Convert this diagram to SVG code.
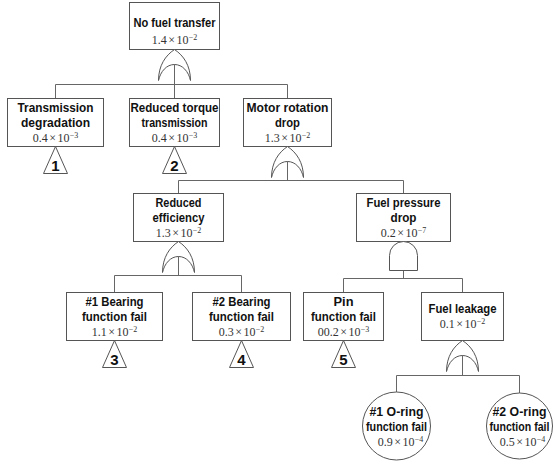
<svg xmlns="http://www.w3.org/2000/svg" xmlns:xlink="http://www.w3.org/1999/xlink" width="555" height="469" viewBox="0 0 555 469">
  <style>
    .box { fill: #fff; stroke: #555; stroke-width: 1; }
    .gate { fill: #fff; stroke: #555; stroke-width: 1; }
    .tri { fill: #fff; stroke: #555; stroke-width: 1; }
    .wire { fill: none; stroke: #666; stroke-width: 1; }
    .t { font-family: "Liberation Sans", Arial, sans-serif; font-weight: bold; font-size: 13px; text-anchor: middle; fill: #111; }
    .n { font-family: "Liberation Sans", Arial, sans-serif; font-weight: bold; font-size: 15px; text-anchor: middle; fill: #111; }
    .v { font-family: "Liberation Serif", "Times New Roman", serif; font-size: 12px; text-anchor: middle; fill: #333; word-spacing: -1.5px; }
    .sup { font-size: 8px; }
  </style>
  <defs>
    <!-- OR gate, tip at origin -->
    <path id="orGate" class="gate" d="M0,0 C9,6 16,16 16,31 C14,22 8,15 0,15 C-8,15 -14,22 -16,31 C-16,16 -9,6 0,0 Z"/>
    <!-- AND gate, top of dome at origin -->
    <path id="andGate" class="gate" d="M-14,29 V14 A14,14 0 0 1 14,14 V29 Z"/>
    <!-- transfer triangle, apex at origin -->
    <path id="transfer" class="tri" d="M0,0 L12,27 L-12,27 Z"/>
  </defs>

  <g id="connectors" class="wire">
    <path d="M174.5,64 V98.5"/>
    <path d="M55.5,84.5 H287.5"/>
    <path d="M55.5,84.5 V98.5 M287.5,84.5 V98.5"/>
    <path d="M287.5,161 V180.5"/>
    <path d="M178.5,180.5 H403.5"/>
    <path d="M178.5,180.5 V193.5 M403.5,180.5 V193.5"/>
    <path d="M178.5,256 V275.5"/>
    <path d="M114.5,275.5 H241.5"/>
    <path d="M114.5,275.5 V292.5 M241.5,275.5 V292.5"/>
    <path d="M403.5,270.5 V278.5"/>
    <path d="M343.5,278.5 H462.5"/>
    <path d="M343.5,278.5 V292.5 M462.5,278.5 V292.5"/>
    <path d="M462.5,355 V375.5"/>
    <path d="M396.5,375.5 H519.5"/>
    <path d="M396.5,375.5 V392 M519.5,375.5 V393"/>
  </g>

  <g id="no-fuel-transfer">
    <rect class="box" x="129.5" y="2.5" width="90" height="47"/>
    <text class="t" x="174.5" y="27" textLength="82" lengthAdjust="spacingAndGlyphs">No fuel transfer</text>
    <text class="v" x="174.5" y="44">1.4 × 10<tspan class="sup" dy="-4">−2</tspan></text>
    <use xlink:href="#orGate" x="174.5" y="49.5"/>
  </g>

  <g id="transmission-degradation">
    <rect class="box" x="7.5" y="98.5" width="96" height="48"/>
    <text class="t" x="55.5" y="112" textLength="76" lengthAdjust="spacingAndGlyphs">Transmission</text>
    <text class="t" x="55.5" y="127" textLength="69" lengthAdjust="spacingAndGlyphs">degradation</text>
    <text class="v" x="55.5" y="142">0.4 × 10<tspan class="sup" dy="-4">−3</tspan></text>
    <use xlink:href="#transfer" x="55.5" y="146.5"/>
    <text class="n" x="55.5" y="171">1</text>
  </g>

  <g id="reduced-torque-transmission">
    <rect class="box" x="129.5" y="98.5" width="90" height="48"/>
    <text class="t" x="174.5" y="112" textLength="88" lengthAdjust="spacingAndGlyphs">Reduced torque</text>
    <text class="t" x="174.5" y="127" textLength="66" lengthAdjust="spacingAndGlyphs">transmission</text>
    <text class="v" x="174.5" y="142">0.4 × 10<tspan class="sup" dy="-4">−3</tspan></text>
    <use xlink:href="#transfer" x="174.5" y="146.5"/>
    <text class="n" x="174.5" y="171">2</text>
  </g>

  <g id="motor-rotation-drop">
    <rect class="box" x="243.5" y="98.5" width="88" height="48"/>
    <text class="t" x="287.5" y="112" textLength="82" lengthAdjust="spacingAndGlyphs">Motor rotation</text>
    <text class="t" x="287.5" y="127" textLength="25" lengthAdjust="spacingAndGlyphs">drop</text>
    <text class="v" x="287.5" y="142">1.3 × 10<tspan class="sup" dy="-4">−2</tspan></text>
    <use xlink:href="#orGate" x="287.5" y="146.5"/>
  </g>

  <g id="reduced-efficiency">
    <rect class="box" x="133.5" y="193.5" width="90" height="48"/>
    <text class="t" x="178.5" y="207" textLength="46" lengthAdjust="spacingAndGlyphs">Reduced</text>
    <text class="t" x="178.5" y="222" textLength="52" lengthAdjust="spacingAndGlyphs">efficiency</text>
    <text class="v" x="178.5" y="237">1.3 × 10<tspan class="sup" dy="-4">−2</tspan></text>
    <use xlink:href="#orGate" x="178.5" y="241.5"/>
  </g>

  <g id="fuel-pressure-drop">
    <rect class="box" x="356.5" y="193.5" width="94" height="48"/>
    <text class="t" x="403.5" y="207" textLength="74" lengthAdjust="spacingAndGlyphs">Fuel pressure</text>
    <text class="t" x="403.5" y="222" textLength="26" lengthAdjust="spacingAndGlyphs">drop</text>
    <text class="v" x="403.5" y="237">0.2 × 10<tspan class="sup" dy="-4">−7</tspan></text>
    <use xlink:href="#andGate" x="403.5" y="241.5"/>
  </g>

  <g id="bearing-1-function-fail">
    <rect class="box" x="66.5" y="292.5" width="96" height="48"/>
    <text class="t" x="114.5" y="306" textLength="58" lengthAdjust="spacingAndGlyphs">#1 Bearing</text>
    <text class="t" x="114.5" y="321" textLength="65" lengthAdjust="spacingAndGlyphs">function fail</text>
    <text class="v" x="114.5" y="336">1.1 × 10<tspan class="sup" dy="-4">−2</tspan></text>
    <use xlink:href="#transfer" x="114.5" y="340.5"/>
    <text class="n" x="114.5" y="365">3</text>
  </g>

  <g id="bearing-2-function-fail">
    <rect class="box" x="192.5" y="292.5" width="98" height="48"/>
    <text class="t" x="241.5" y="306" textLength="58" lengthAdjust="spacingAndGlyphs">#2 Bearing</text>
    <text class="t" x="241.5" y="321" textLength="65" lengthAdjust="spacingAndGlyphs">function fail</text>
    <text class="v" x="241.5" y="336">0.3 × 10<tspan class="sup" dy="-4">−2</tspan></text>
    <use xlink:href="#transfer" x="241.5" y="340.5"/>
    <text class="n" x="241.5" y="365">4</text>
  </g>

  <g id="pin-function-fail">
    <rect class="box" x="303.5" y="292.5" width="80" height="48"/>
    <text class="t" x="343.5" y="306" textLength="20" lengthAdjust="spacingAndGlyphs">Pin</text>
    <text class="t" x="343.5" y="321" textLength="65" lengthAdjust="spacingAndGlyphs">function fail</text>
    <text class="v" x="343.5" y="336">00.2 × 10<tspan class="sup" dy="-4">−3</tspan></text>
    <use xlink:href="#transfer" x="343.5" y="340.5"/>
    <text class="n" x="343.5" y="365">5</text>
  </g>

  <g id="fuel-leakage">
    <rect class="box" x="421.5" y="292.5" width="82" height="48"/>
    <text class="t" x="462.5" y="313" textLength="68" lengthAdjust="spacingAndGlyphs">Fuel leakage</text>
    <text class="v" x="462.5" y="328">0.1 × 10<tspan class="sup" dy="-4">−2</tspan></text>
    <use xlink:href="#orGate" x="462.5" y="340.5"/>
  </g>

  <g id="o-ring-1-function-fail">
    <circle class="box" cx="396.5" cy="426" r="34"/>
    <text class="t" x="396.5" y="416" textLength="54" lengthAdjust="spacingAndGlyphs">#1 O-ring</text>
    <text class="t" x="396.5" y="431" textLength="61" lengthAdjust="spacingAndGlyphs">function fail</text>
    <text class="v" x="400.5" y="446">0.9 × 10<tspan class="sup" dy="-4">−4</tspan></text>
  </g>

  <g id="o-ring-2-function-fail">
    <circle class="box" cx="519.5" cy="426" r="33"/>
    <text class="t" x="519.5" y="416" textLength="54" lengthAdjust="spacingAndGlyphs">#2 O-ring</text>
    <text class="t" x="519.5" y="431" textLength="60" lengthAdjust="spacingAndGlyphs">function fail</text>
    <text class="v" x="522.5" y="446">0.5 × 10<tspan class="sup" dy="-4">−4</tspan></text>
  </g>
</svg>
